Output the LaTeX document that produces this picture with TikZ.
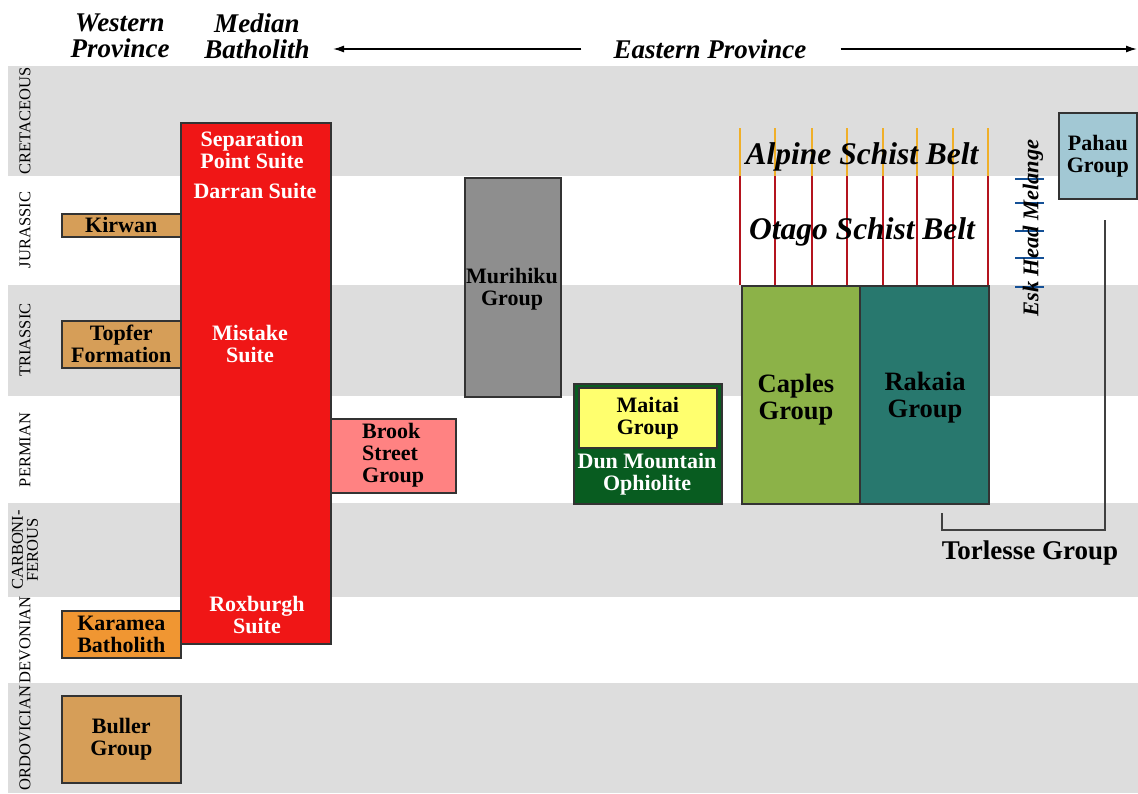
\documentclass[tikz,border=0pt]{standalone}
\usepackage{fontspec}
\setmainfont{Liberation Serif}
\usetikzlibrary{arrows.meta}

\definecolor{band}{RGB}{221,221,221}
\definecolor{granite}{RGB}{240,22,22}
\definecolor{tan}{RGB}{214,158,88}
\definecolor{karamea}{RGB}{240,150,50}
\definecolor{brook}{RGB}{255,130,130}
\definecolor{murihiku}{RGB}{142,142,142}
\definecolor{dunmtn}{RGB}{8,92,32}
\definecolor{maitai}{RGB}{255,255,110}
\definecolor{caples}{RGB}{140,178,72}
\definecolor{rakaia}{RGB}{40,120,110}
\definecolor{pahau}{RGB}{162,200,212}
\definecolor{alpine}{RGB}{240,175,40}
\definecolor{otago}{RGB}{180,20,30}
\definecolor{esk}{RGB}{20,80,150}

\tikzset{
  unit/.style={draw=black!80, line width=1.6pt, anchor=north west, inner sep=0pt},
  lbl/.style={font=\fontsize{22}{22}\selectfont\bfseries, align=center, inner sep=0pt},
  biglbl/.style={font=\fontsize{26.5}{27}\selectfont\bfseries, align=center, inner sep=0pt},
  period/.style={font=\fontsize{16.5}{15}\selectfont, rotate=90, align=center, inner sep=0pt},
  head/.style={font=\fontsize{27}{26}\selectfont\bfseries\itshape, align=center, inner sep=0pt},
  belt/.style={font=\fontsize{31.5}{31.5}\selectfont\bfseries\itshape, inner sep=0pt}
}

\begin{document}
\begin{tikzpicture}[x=1pt,y=-1pt]
        \useasboundingbox (0,0) rectangle (1138,793);
        \fill[white] (0,0) rectangle (1138,793);
        % Time bands
        \foreach \top/\bot in {66/176,285/396,503/597,683/793} {
            \fill[band] (8,\top) rectangle (1138,\bot);
        }
        \node[period] (cret) at (25,121) {CRETACEOUS};
        \node[period] (jura) at (25,230) {JURASSIC};
        \node[period] (tria) at (25,340) {TRIASSIC};
        \node[period] (perm) at (25,450) {PERMIAN};
        \node[period] (carb) at (25,550) {CARBONI-\\FEROUS};
        \node[period] (devo) at (25,640) {DEVONIAN};
        \node[period] (ordo) at (25,738) {ORDOVICIAN};
        % Province headings
        \node[head] (west) at (120,36) {Western\\Province};
        \node[head] (median) at (257,36) {Median\\Batholith};
        \node[head] (east) at (710,49) {Eastern Province};
        \coordinate (eastl) at (333,49);
        \coordinate (eastr) at (1137,49);
        \draw[line width=1.4pt,-{Latex[length=11pt,width=7pt]}] ([xshift=-32pt]east.west) -- (eastl);
        \draw[line width=1.4pt,-{Latex[length=11pt,width=7pt]}] ([xshift=34pt]east.east) -- (eastr);
        % Western Province
        \node[unit,fill=tan,minimum width=119,minimum height=23] (kirwan) at (61,213) {};
        \node[lbl] at (kirwan.center) {Kirwan};
        \node[unit,fill=tan,minimum width=119,minimum height=47] (topfer) at (61,320) {};
        \node[lbl] at (topfer.center) {Topfer\\Formation};
        \node[unit,fill=karamea,minimum width=119,minimum height=47] (karamea) at (61,610) {};
        \node[lbl] at (karamea.center) {Karamea\\Batholith};
        \node[unit,fill=tan,minimum width=119,minimum height=87] (buller) at (61,695) {};
        \node[lbl] at (buller.center) {Buller\\Group};
        % Median Batholith
        \node[unit,fill=granite,minimum width=150,minimum height=521] (median) at (180,122) {};
        \node[lbl,text=white] (seppt) at (252,150) {Separation\\Point Suite};
        \node[lbl,text=white] (darran) at (255,191) {Darran Suite};
        \node[lbl,text=white] (mistake) at (250,344) {Mistake\\Suite};
        \node[lbl,text=white] (roxburgh) at (257,615) {Roxburgh\\Suite};
        % Eastern Province
        \node[unit,fill=brook,minimum width=125,minimum height=74] (brook) at (330,418) {};
        \node[lbl,align=left,anchor=west] at (362,455) {Brook\\Street\\Group};
        \node[unit,fill=murihiku,minimum width=96,minimum height=219] (murihiku) at (464,177) {};
        \node[lbl] at (512,289) {Murihiku\\Group};
        \node[unit,fill=dunmtn,minimum width=148,minimum height=120] (dunmtn) at (573,383) {};
        \node[unit,fill=maitai,minimum width=138,minimum height=60] (maitai) at (578,387) {};
        \node[lbl] at (maitai.center) {Maitai\\Group};
        \node[lbl,text=white] at (647,474) {Dun Mountain\\Ophiolite};
        \node[unit,fill=caples,minimum width=118,minimum height=218] (caples) at (741,285) {};
        \node[biglbl] at (796,400) {Caples\\Group};
        \node[unit,fill=rakaia,minimum width=129,minimum height=218] (rakaia) at (859,285) {};
        \node[biglbl] at (925,398) {Rakaia\\Group};
        % Schist belts
        \foreach \x in {740,775,812,847,883,917,953,988} {
            \draw[alpine,line width=1.8pt] (\x,128) -- (\x,176);
            \draw[otago,line width=1.8pt] (\x,176) -- (\x,285);
        }
        \node[belt] (alpine) at (862,157) {Alpine Schist Belt};
        \node[belt] (otago) at (862,232) {Otago Schist Belt};
        % Esk Head Melange
        \foreach \y in {179,203,231,258,287} {
            \draw[esk,line width=2pt] (1015,\y) -- (1044,\y);
        }
        \node[belt,font=\fontsize{22.5}{22.5}\selectfont\bfseries\itshape,rotate=90] (eskhead) at (1033,228) {Esk Head Melange};
        \node[unit,fill=pahau,minimum width=78,minimum height=86] (pahau) at (1058,112) {};
        \node[lbl] at (pahau.center) {Pahau\\Group};
        % Torlesse bracket
        \node[font=\fontsize{27}{27}\selectfont\bfseries,inner sep=0pt] (torlesse) at (1030,553) {Torlesse Group};
        \coordinate (tl) at (942,513);
        \coordinate (tr) at (1105,220);
        \draw[line width=1.6pt,black!75] (tl) -- (942,530) -- (1105,530) -- (tr);
\end{tikzpicture}
\end{document}
